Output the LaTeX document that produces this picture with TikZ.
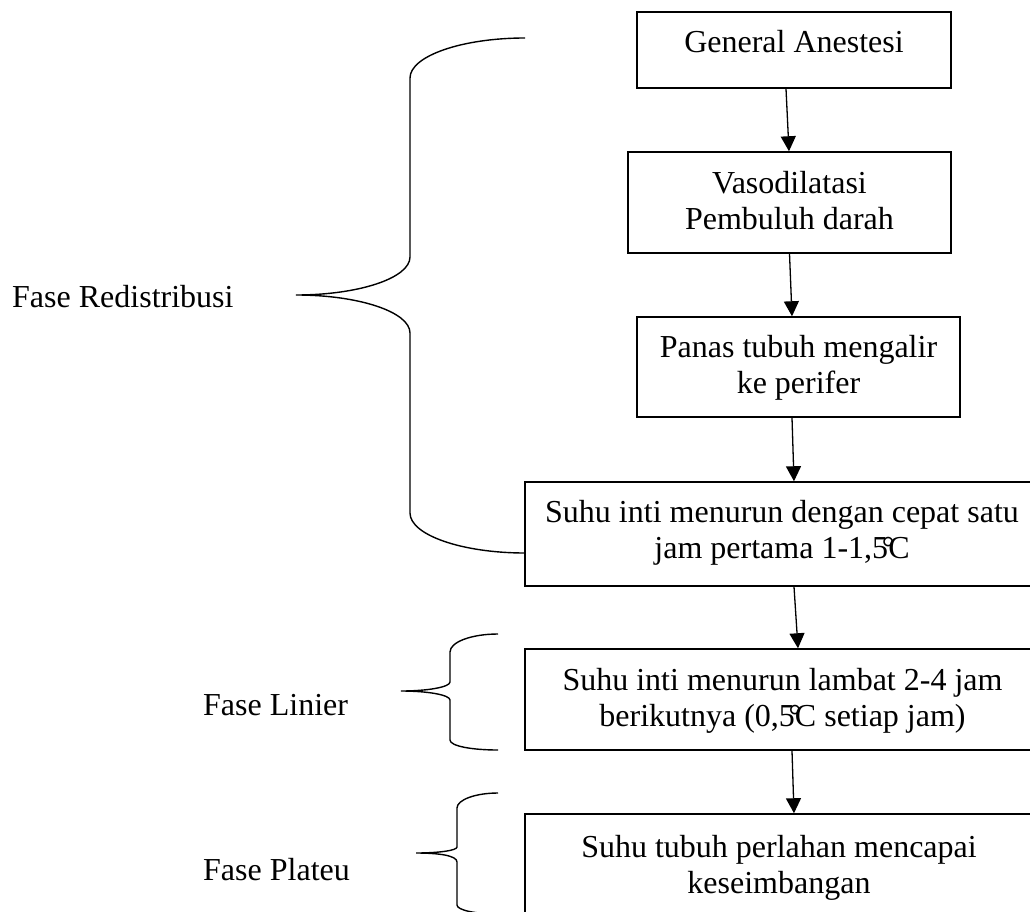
\documentclass[tikz,border=0pt]{standalone}
\usepackage{fontspec}
\setmainfont{Liberation Serif}
\usetikzlibrary{arrows.meta}
\tikzset{
  box/.style={draw, line width=1.5pt, rectangle, inner sep=0pt},
  txt/.style={font=\fontsize{32}{36.5}\selectfont, align=center, inner sep=0pt, anchor=north},
  lbl/.style={font=\fontsize{32}{36.5}\selectfont, inner sep=0pt, anchor=base west},
  arr/.style={line width=1.3pt, -{Triangle[length=15pt,width=15pt]}},
  bracepath/.style={line width=1.4pt}
}
\begin{document}
\begin{tikzpicture}[x=1pt,y=-1pt]
\useasboundingbox (0,0) rectangle (1030,912);
\clip (0,0) rectangle (1030,912);
% boxes
\node[box, minimum width=314pt, minimum height=76pt]  (b1) at (794,50) {};
\node[box, minimum width=323pt, minimum height=101pt] (b2) at (789.5,202.5) {};
\node[box, minimum width=323pt, minimum height=100pt] (b3) at (798.5,367) {};
\node[box, minimum width=515pt, minimum height=104pt] (b4) at (782.5,534) {};
\node[box, minimum width=515pt, minimum height=101pt] (b5) at (782.5,699.5) {};
\node[box, minimum width=515pt, minimum height=102pt] (b6) at (782.5,865) {};
% texts
\node[txt] (t1) at (794,30) {General Anestesi};
\node[txt] (t2) at (789.5,171) {Vasodilatasi\\Pembuluh darah};
\node[txt] (t3) at (798.5,335) {Panas tubuh mengalir\\ke perifer};
\node[txt] (t4) at (782,500) {Suhu inti menurun dengan cepat satu\\jam pertama 1-1,5\makebox[0pt][c]{°}C};
\node[txt] (t5) at (782.5,668) {Suhu inti menurun lambat 2-4 jam\\berikutnya (0,5\makebox[0pt][c]{°}C setiap jam)};
\node[txt] (t6) at (779,835) {Suhu tubuh perlahan mencapai\\keseimbangan};
% labels
\node[lbl] (l1) at (12,307) {Fase Redistribusi};
\node[lbl] (l2) at (203,715) {Fase Linier};
\node[lbl] (l3) at (203,880) {Fase Plateu};
% arrows
\draw[arr] ([xshift=-8pt]b1.south) -- ([xshift=-0.5pt]b2.north);
\draw[arr] ([xshift=0pt]b2.south) -- ([xshift=-6.5pt]b3.north);
\draw[arr] ([xshift=-6.5pt]b3.south) -- ([xshift=11.5pt]b4.north);
\draw[arr] ([xshift=11.5pt]b4.south) -- ([xshift=15.5pt]b5.north);
\draw[arr] ([xshift=9.5pt]b5.south) -- ([xshift=11.5pt]b6.north);
% brace redistribusi
\coordinate (r1) at (525,38);
\coordinate (r2) at (410,78);
\coordinate (r3) at (410,257);
\coordinate (rt) at (296,295);
\coordinate (r4) at (410,333);
\coordinate (r5) at (410,513);
\coordinate (r6) at (525,553);
\draw[bracepath] (r1) .. controls (462,38) and (410,56) .. (r2) -- (r3)
  .. controls (410,278) and (359,295) .. (rt)
  .. controls (359,295) and (410,312) .. (r4) -- (r5)
  .. controls (410,535) and (462,553) .. (r6);
% brace linier
\coordinate (n1) at (498,634);
\coordinate (n2) at (450,652);
\coordinate (n3) at (450,682);
\coordinate (nt) at (401,691);
\coordinate (n4) at (450,700);
\coordinate (n5) at (450,740);
\coordinate (n6) at (498,750);
\draw[bracepath] (n1) .. controls (471.5,634) and (450,642) .. (n2) -- (n3)
  .. controls (450,687) and (428,691) .. (nt)
  .. controls (428,691) and (450,695) .. (n4) -- (n5)
  .. controls (450,746) and (471.5,750) .. (n6);
% brace plateu
\coordinate (p1) at (498,793);
\coordinate (p2) at (457,808);
\coordinate (p3) at (457,847);
\coordinate (pt) at (416,853);
\coordinate (p4) at (457,862);
\coordinate (p5) at (457,905);
\coordinate (p6) at (498,914);
\draw[bracepath] (p1) .. controls (475,793) and (457,800) .. (p2) -- (p3)
  .. controls (457,850.5) and (438.5,853) .. (pt)
  .. controls (438.5,853) and (457,855.5) .. (p4) -- (p5)
  .. controls (457,910) and (475,914) .. (p6);
\end{tikzpicture}
\end{document}
